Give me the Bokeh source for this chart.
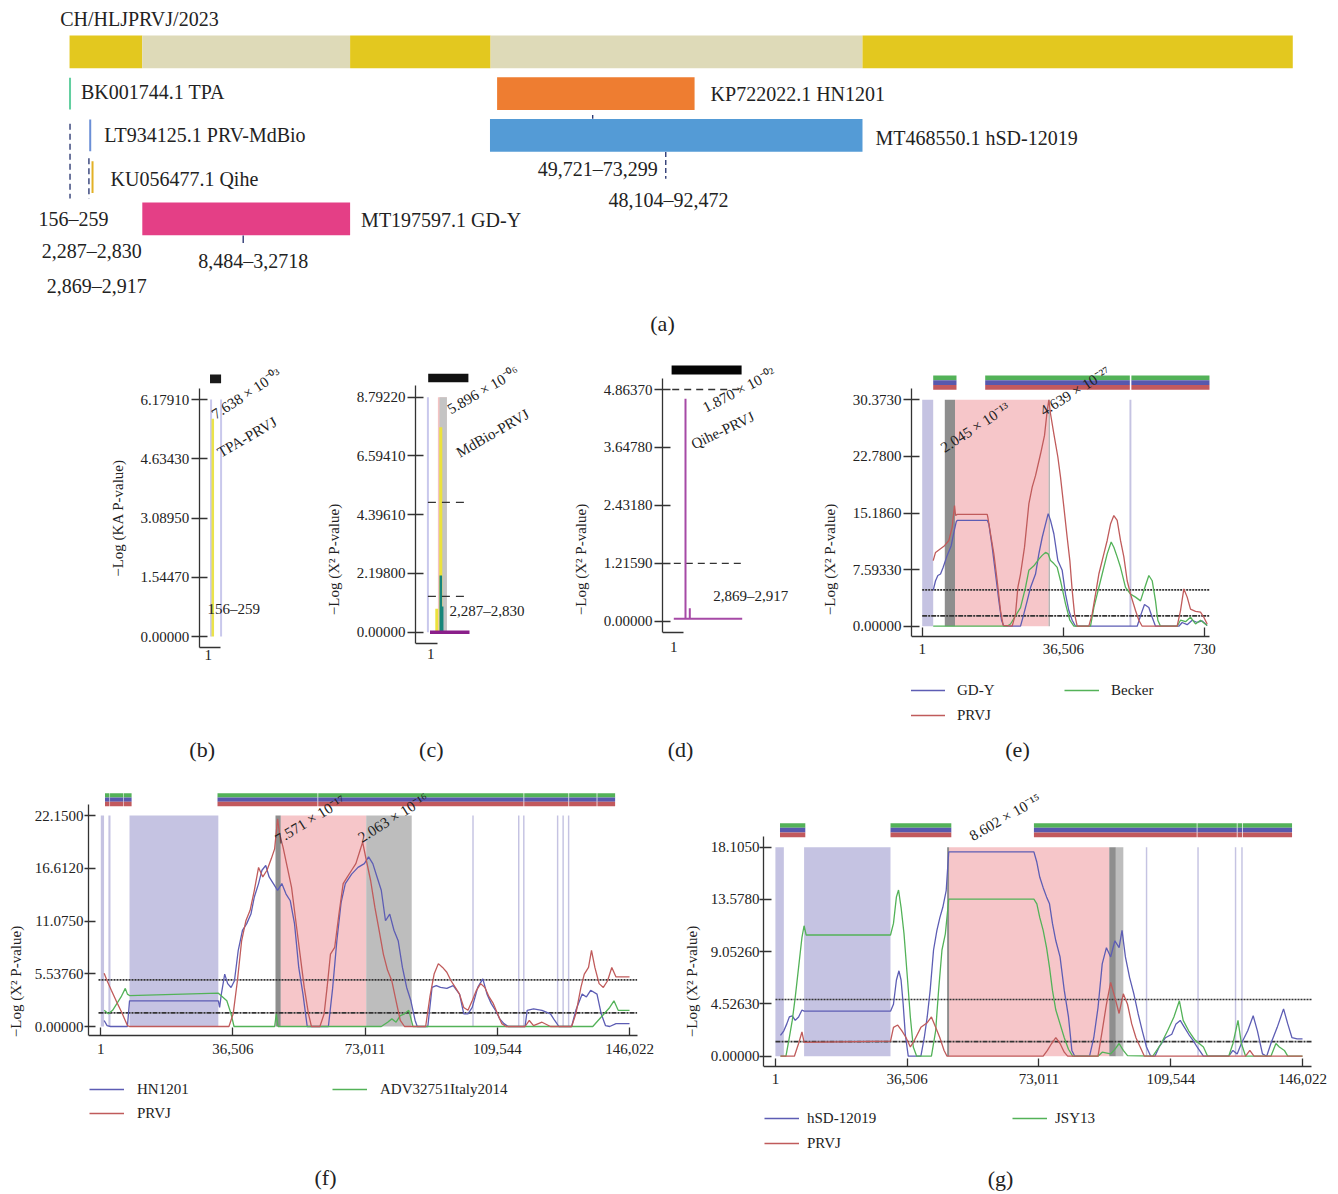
import math
from bokeh.plotting import figure
from bokeh.models import Range1d, LinearAxis, FixedTicker, Legend, LegendItem, Label
from bokeh.layouts import column, row
from bokeh.embed import file_html
from bokeh.resources import INLINE
from bokeh.core.properties import value

FONT = "Liberation Serif"
INK = "#222222"

# ======================= DATA =======================
# (a) genome schematic (bp)
genome_name = "CH/HLJPRVJ/2023"
genome_block_start = [1, 8484, 32718, 49100, 92472]
genome_block_end = [8484, 32718, 49100, 92472, 142650]

parent_bar_names = ["KP722022.1 HN1201", "MT468550.1 hSD-12019", "MT197597.1 GD-Y"]
parent_bar_start = [49860, 49030, 8484]
parent_bar_end = [72890, 92472, 32718]
parent_bar_row = [1, 2, 4]

parent_line_names = ["BK001744.1 TPA", "LT934125.1 PRV-MdBio", "KU056477.1 Qihe"]
parent_line_pos = [55, 2410, 2680]
parent_line_row = [1, 2, 3]

range_labels = ["156–259", "2,287–2,830", "2,869–2,917", "8,484–3,2718", "49,721–73,299", "48,104–92,472"]
dashed_mark_pos = [55, 2260]
solid_mark_pos = [61010, 20250]
hsd_mark_pos = [69530]

# (b) TPA-PRVJ
b_ticks = [0, 1.544775, 3.08955, 4.634325, 6.1791]
b_tick_labels = ["0.00000", "1.54470", "3.08950", "4.63430", "6.17910"]
b_bound_pos = [63, 278]
b_signal_pos = [100]
b_signal_val = [5.675]
b_box = [40, 278]
b_pvalue = "7.638 × 10⁻⁰³"
b_pair = "TPA-PRVJ"

# (c) MdBio-PRVJ
c_ticks = [0, 2.19805, 4.3961, 6.59415, 8.7922]
c_tick_labels = ["0.00000", "2.19800", "4.39610", "6.59410", "8.79220"]
c_bound_pos = [-167]
c_pink = [433, 973]
c_gray = [529, 973]
c_yellow_pos = [367, 607]
c_yellow_val = [0.875, 7.67]
c_teal_pos = [607, 691]
c_teal_val = [2.12, 0.96]
c_base = [-41, 2329]
c_thresholds = [4.86, 1.34]
c_thresh_span = [-167, 2047]
c_box = [-149, 2263]
c_pvalue = "5.896 × 10⁻⁰⁶"
c_pair = "MdBio-PRVJ"

# (d) Qihe-PRVJ
d_ticks = [0, 1.215925, 2.43185, 3.647775, 4.8637]
d_tick_labels = ["0.00000", "1.21590", "2.43180", "3.64780", "4.86370"]
d_signal_pos = [703, 961]
d_signal_val = [4.67, 0.27]
d_base = [1, 4105]
d_thresholds = [4.8637, 1.2159]
d_thresh_start = [-95, 1]
d_thresh_end = 4063
d_box = [-131, 4069]
d_pvalue = "1.870 × 10⁻⁰²"
d_pair = "Qihe-PRVJ"

# (e) GD-Y / PRVJ / Becker
e_ticks = [0, 7.59325, 15.1865, 22.77975, 30.373]
e_tick_labels = ["0.00000", "7.59330", "15.1860", "22.7800", "30.3730"]
e_xticks = [1, 36506, 73011]
e_xtick_labels = ["1", "36,506", "730"]
e_lavender = [(1, 2846), (53600, 54100)]
e_darkgray = [(5845, 8484)]
e_pink = [(8484, 32718)]
e_gray_line = [(32718, 32980)]
e_stripes = [(2846, 8871), (16293, 53700), (54100, 74300)]
e_thresholds = [4.88, 1.39]
e_gdy = [(2845, 4.8), (3449, 6.1), (4052, 6.8), (4742, 7.0), (5432, 7.9), (6466, 9.5), (7500, 10.8),
         (8190, 12.6), (8794, 14.0), (9052, 14.2), (16810, 14.2), (17241, 13.7), (18103, 10.6),
         (18965, 7.0), (19827, 3.4), (20517, 0.8), (21120, 0), (25430, 0), (26292, 1.65), (27154, 3.4),
         (28016, 5.2), (29309, 7.0), (30171, 9.7), (31033, 11.9), (31895, 13.7), (32585, 15.1),
         (33188, 14.2), (34050, 12.4), (35084, 8.8), (36205, 7.5), (37067, 4.3), (37929, 2.1),
         (38791, 0.8), (39653, 0), (55600, 0), (56634, 1.65), (57496, 2.9), (58617, 2.5), (59479, 1.2),
         (60341, 0), (66375, 0), (67237, 0.5), (68530, 0.2), (69823, 0.8), (71116, 0.5), (72409, 0.7),
         (73700, 0.1)]
e_prvj = [(2845, 8.8), (3449, 9.9), (4742, 10.4), (5776, 10.8), (6897, 11.5), (7759, 13.3), (8362, 16.2),
          (8621, 14.85), (9052, 15.0), (16810, 15.0), (16982, 14.6), (17672, 12.4), (18534, 9.7),
          (19396, 6.1), (20258, 2.1), (20948, 0.1), (23275, 0), (24137, 1.65), (24740, 5.2), (25430, 7.0),
          (26464, 10.6), (27585, 16.4), (28447, 18.65), (29309, 20.2), (30602, 23.1), (31636, 25.6),
          (32326, 28.9), (32757, 30.37), (33188, 28.5), (34050, 25.8), (35084, 22.7), (35773, 20.0),
          (36635, 16.0), (37497, 11.9), (38187, 8.8), (38791, 4.8), (39394, 1.65), (40084, 0),
          (43101, 0), (43963, 1.65), (44825, 4.3), (45687, 7.0), (46980, 9.7), (47842, 11.5),
          (48704, 13.7), (49566, 14.85), (50428, 14.2), (51290, 11.5), (52152, 9.3), (53014, 6.1),
          (53876, 4.3), (55169, 2.1), (56031, 0.8), (56893, 0), (65944, 0), (66806, 2.1), (67668, 5.0),
          (68530, 3.9), (69392, 2.3), (70685, 2.0), (71978, 1.9), (72840, 1.2), (73700, 0.3)]
e_becker = [(2845, 0), (21982, 0), (22844, 0.3), (24137, 1.4), (25430, 2.5), (26723, 5.2), (27585, 7.5),
            (28878, 8.1), (30171, 9.0), (31033, 9.5), (31895, 9.9), (32585, 9.7), (33188, 8.8),
            (34050, 8.4), (34912, 7.9), (35773, 6.1), (37067, 3.0), (38187, 0.8), (39222, 0),
            (43532, 0), (44394, 2.5), (45256, 4.3), (46549, 7.0), (47842, 9.7), (48876, 11.3),
            (49566, 10.6), (50428, 9.3), (51290, 7.9), (52583, 5.2), (53876, 4.3), (55169, 3.9),
            (56462, 3.4), (57324, 4.8), (58617, 6.8), (59479, 6.1), (60341, 3.4), (60944, 0.8),
            (61634, 0), (65944, 0), (66806, 0.8), (68099, 0.6), (69392, 1.2), (70685, 0.3),
            (71978, 0.8), (73700, 0.1)]
e_names = ["GD-Y", "PRVJ", "Becker"]
e_pvalues = ["2.045 × 10⁻¹³", "4.639 × 10⁻²⁷"]

# (f) HN1201 / PRVJ / ADV32751Italy2014
f_ticks = [0, 5.5375, 11.075, 16.6125, 22.15]
f_tick_labels = ["0.00000", "5.53760", "11.0750", "16.6120", "22.1500"]
gen_xticks = [1, 36506, 73011, 109544, 146022]
gen_xtick_labels = ["1", "36,506", "73,011", "109,544", "146,022"]
f_lavender = [(1, 900), (2100, 2680), (7930, 32460), (102600, 103000), (115230, 115630),
              (116630, 117030), (125970, 126370), (127490, 127890), (129010, 129410)]
f_darkgray = [(48250, 49721)]
f_pink = [(49721, 73299)]
f_gray = [(73299, 85870)]
f_stripes = [(1161, 2400), (2550, 6150), (6300, 8508), (32234, 59850), (60050, 116750),
             (116950, 129150), (129350, 136950), (137150, 142050)]
f_thresholds = [4.9, 1.44]
f_hn = [(924, 0.63), (1742, 0.1), (2677, 0), (7351, 0), (7935, 2.7), (32472, 2.7), (32823, 2.0),
        (33290, 3.4), (34225, 5.5), (35043, 4.5), (35978, 4.1), (36912, 4.8), (37964, 8.0),
        (39132, 10.1), (40301, 10.8), (41469, 11.8), (42404, 13.6), (43572, 15.0), (44507, 16.4),
        (45558, 16.9), (46493, 15.7), (47661, 15.0), (48830, 14.3), (49998, 15.0), (51167, 13.9),
        (52335, 13.2), (53503, 10.8), (54672, 6.2), (55840, 3.4), (57009, 0), (62859, 0),
        (64027, 4.0), (65196, 9.0), (66364, 13.0), (67533, 15.0), (69285, 16.0), (71038, 16.7),
        (72791, 17.1), (73959, 17.8), (75128, 17.1), (76296, 15.7), (77465, 14.3), (78633, 11.1),
        (79802, 11.8), (80970, 10.1), (82138, 9.0), (83307, 6.2), (84475, 4.1), (85644, 2.7),
        (86812, 0.63), (87396, 0), (90318, 0), (91486, 4.1), (92654, 4.3), (93823, 4.1),
        (95575, 4.0), (97328, 4.3), (99081, 3.4), (100249, 1.33), (101417, 1.33), (102586, 2.0),
        (104105, 4.1), (105507, 5.0), (106675, 3.4), (107844, 2.4), (109012, 1.7), (110180, 0.8),
        (111349, 0.3), (112517, 0), (117181, 0), (117765, 1.7), (119518, 1.85), (121855, 1.7),
        (124192, 1.33), (125360, 0.63), (126529, 0), (130034, 0), (131202, 1.7), (132955, 3.4),
        (134123, 3.1), (135292, 3.8), (137044, 3.4), (138213, 1.33), (139381, 0.1), (140550, 0),
        (142302, 0.3), (146022, 0.3)]
f_prvj = [(924, 5.6), (1742, 4.8), (2911, 3.8), (4430, 2.55), (5949, 1.33), (7351, 0.1), (7935, 0),
          (35393, 0), (36561, 1.33), (37730, 4.8), (38898, 9.0), (40066, 11.1), (41235, 12.2),
          (42403, 14.3), (43572, 16.7), (44740, 15.7), (45908, 16.4), (47077, 17.6), (48011, 18.65),
          (48829, 21.8), (49413, 20.2), (50348, 18.8), (51516, 16.7), (52685, 14.6), (53853, 11.1),
          (55022, 7.6), (56190, 4.1), (57359, 1.33), (58176, 0), (60513, 0), (61682, 1.33),
          (62500, 4.1), (63434, 7.6), (64603, 8.3), (65771, 11.8), (66940, 15.0), (68108, 15.7),
          (69276, 16.4), (70445, 17.1), (71613, 18.5), (72314, 19.35), (73366, 17.4), (74534, 15.3),
          (75703, 12.5), (76871, 10.1), (78040, 7.6), (79208, 5.9), (80376, 4.8), (81545, 2.7),
          (82713, 0.63), (83882, 0), (89724, 0), (90892, 3.1), (92060, 5.5), (93229, 6.6),
          (94397, 6.2), (95566, 5.7), (96734, 4.8), (97903, 4.1), (99071, 3.4), (100240, 2.0),
          (101408, 1.7), (102576, 2.7), (103745, 3.8), (104913, 4.5), (106082, 4.1), (107250, 3.1),
          (108418, 2.4), (109587, 1.33), (110755, 0.3), (111924, 0), (117181, 0), (118350, 0.63),
          (119518, 0.1), (121855, 0.45), (124192, 0), (130034, 0), (131202, 1.33), (132604, 4.1),
          (133539, 5.5), (134707, 6.2), (135525, 8.0), (136460, 6.2), (137628, 4.5), (138797, 4.1),
          (139965, 4.8), (141133, 6.2), (142302, 5.2), (146022, 5.2)]
f_adv = [(924, 1.7), (2093, 1.33), (3261, 1.7), (4430, 2.4), (5598, 3.1), (6767, 4.0), (7351, 3.4),
         (7935, 3.25), (32472, 3.5), (33641, 3.1), (34809, 2.7), (35978, 1.33), (36796, 0),
         (48011, 0), (48478, 1.33), (48946, 0), (77465, 0), (79218, 0.45), (80386, 0.8),
         (81555, 0.45), (82723, 1.15), (83892, 1.33), (85060, 1.7), (86229, 0), (135884, 0),
         (138220, 1.0), (140557, 2.0), (141726, 2.7), (142894, 1.7), (146022, 1.7)]
f_names = ["HN1201", "PRVJ", "ADV32751Italy2014"]
f_pvalues = ["7.571 × 10⁻¹⁷", "2.063 × 10⁻¹⁶"]

# (g) hSD-12019 / PRVJ / JSY13
g_ticks = [0, 4.52625, 9.0525, 13.57875, 18.105]
g_tick_labels = ["0.00000", "4.52630", "9.05260", "13.5780", "18.1050"]
g_lavender = [(1, 2340), (7950, 31880), (102600, 103000), (116860, 117260), (127250, 127650),
              (129030, 129430)]
g_darkgray = [(47560, 48104), (92472, 94300)]
g_lightgray = [(94300, 96370)]
g_pink = [(48104, 92472)]
g_stripes = [(1275, 8283), (31883, 48725), (71606, 116700), (116900, 127800), (128000, 129300),
             (129500, 143100)]
g_thresholds = [4.91, 1.27]
g_hsd = [(1403, 1.8), (2337, 2.2), (3155, 2.8), (3855, 3.4), (4673, 3.5), (5491, 3.1), (6425, 3.4),
         (7359, 4.0), (7943, 3.9), (31887, 3.9), (32705, 4.5), (33522, 6.6), (34223, 7.4),
         (34807, 6.6), (35391, 4.5), (35975, 1.9), (36793, 0), (40297, 0), (41231, 1.6),
         (42049, 3.4), (42867, 5.7), (43801, 9.2), (44735, 10.9), (45553, 12.0), (46371, 12.9),
         (47305, 14.35), (48006, 17.7), (71599, 17.7), (72417, 16.8), (73234, 15.5), (74169, 14.6),
         (75103, 13.8), (75921, 13.2), (76739, 11.5), (77673, 10.0), (78841, 8.6), (80009, 5.7),
         (81177, 3.4), (82112, 0.5), (82929, 0), (87017, 0), (88185, 1.6), (89353, 4.2),
         (90521, 8.0), (91689, 9.4), (92857, 8.6), (94025, 10.0), (95193, 9.4), (96011, 10.9),
         (96945, 8.6), (98113, 6.8), (99281, 5.4), (100449, 3.7), (101617, 2.2), (102785, 0.8),
         (103953, 0), (105121, 0), (106289, 0.8), (108041, 1.6), (109793, 1.9), (110961, 2.8),
         (112129, 3.1), (113297, 2.5), (114465, 1.9), (115633, 1.4), (116801, 0.8), (118553, 0),
         (125561, 0), (126729, 0.5), (127897, 0.2), (129065, 1.1), (130817, 2.2), (132335, 3.5),
         (133503, 2.2), (134905, 0.2), (136073, 0), (137241, 1.1), (138993, 2.5), (140745, 4.1),
         (141913, 2.8), (143081, 1.6), (144483, 1.5), (146001, 1.5)]
g_prvj = [(1403, 0), (5257, 0), (6425, 1.1), (7359, 2.1), (7943, 1.2), (31887, 1.3), (32705, 2.5),
          (33873, 2.7), (35041, 2.2), (36209, 1.6), (37377, 0.8), (38545, 1.4), (40297, 2.5),
          (42049, 2.9), (43217, 3.4), (44385, 2.5), (45553, 1.6), (46721, 0.5), (47539, 0),
          (74169, 0), (75337, 0.5), (76505, 1.1), (77673, 1.6), (78841, 1.1), (80009, 0.35),
          (80943, 0), (89353, 0), (90521, 2.2), (91689, 4.5), (92857, 6.4), (94025, 5.1),
          (95193, 3.7), (96361, 5.4), (97529, 4.5), (98697, 2.8), (99865, 1.6), (101033, 0.8),
          (102201, 0), (130233, 0), (131401, 0.5), (132569, 0), (146001, 0)]
g_jsy = [(1403, 0), (2921, 0), (3855, 1.6), (4673, 3.1), (5491, 5.1), (6425, 7.7), (7359, 10.3),
         (7943, 11.3), (8527, 10.5), (31887, 10.5), (32705, 11.5), (33522, 13.8), (34107, 14.4),
         (34807, 12.9), (35625, 10.6), (36559, 6.8), (37377, 3.4), (38194, 0.8), (39129, 0),
         (43217, 0), (44385, 2.2), (45203, 5.7), (46137, 9.2), (47071, 10.6), (48006, 13.6),
         (71599, 13.6), (72417, 13.2), (73234, 12.0), (74169, 10.9), (75103, 9.4), (75921, 7.7),
         (76739, 5.7), (77673, 4.0), (78841, 2.8), (80009, 1.6), (81177, 0.6), (82345, 0),
         (89353, 0), (90521, 0.35), (92857, 0.2), (94025, 0.6), (95193, 1.1), (96361, 0.5),
         (97529, 0.05), (104537, 0), (106873, 1.1), (108625, 2.2), (110377, 3.4), (111895, 4.8),
         (112947, 3.1), (114465, 2.2), (116217, 1.4), (118553, 0.8), (119721, 0), (125561, 0),
         (126729, 1.1), (128131, 3.1), (129065, 1.1), (130233, 0), (137241, 0), (138643, 1.1),
         (139577, 0.8), (140979, 0.5), (141913, 0), (146001, 0)]
g_names = ["hSD-12019", "PRVJ", "JSY13"]
g_pvalues = ["8.602 × 10⁻¹⁵"]

# ======================= STYLE =======================
YEL, BEIGE = "#e3c81f", "#dedab8"
BAR_COLORS = ["#ee7d31", "#549bd6", "#e43f86"]
LINE_COLORS = ["#62cfa0", "#6b8fd6", "#e2b126"]
NAVY = "#1f2d6b"
BLUE, RED, GREEN = "#5d5db4", "#c05b5b", "#53b258"
LAV, PINK, GRAY_D, GRAY_L = "#c5c3e2", "#f6c6c9", "#8e8e8e", "#bdbdbd"
STRIPE_COLORS = [GREEN, "#5858ad", "#c2595d"]


def lmap(p0, v0, p1, v1):
    k = (v1 - v0) / (p1 - p0)
    return lambda p: v0 + (p - p0) * k


def make_fig(L, T, W, H, border, xf, yf):
    p = figure(width=int(W + border), height=int(H),
               x_range=Range1d(xf(L), xf(L + W)), y_range=Range1d(yf(T + H), yf(T)),
               output_backend="svg", toolbar_location=None,
               x_axis_location=None, y_axis_location=None,
               min_border_left=border, min_border_right=0, min_border_top=0, min_border_bottom=0)
    p.outline_line_color = None
    p.background_fill_color = "white"
    p.border_fill_color = "white"
    p.grid.visible = False
    return p


def style_axis(ax, tin, tout, standoff):
    ax.axis_line_color = "#333333"
    ax.axis_line_width = 1.3
    ax.major_tick_line_color = "#333333"
    ax.major_tick_line_width = 1.3
    ax.major_tick_in = tin
    ax.major_tick_out = tout
    ax.minor_tick_line_color = None
    ax.major_label_standoff = standoff
    ax.major_label_text_font = FONT
    ax.major_label_text_font_size = "15px"
    ax.major_label_text_color = INK
    ax.axis_label_text_font = FONT
    ax.axis_label_text_font_size = "15px"
    ax.axis_label_text_font_style = "normal"
    ax.axis_label_text_color = INK


def add_y(p, ticks, labels, bounds, label, tin, tout, standoff, lstand, fixed=None):
    ax = LinearAxis(ticker=FixedTicker(ticks=ticks),
                    major_label_overrides={t: s for t, s in zip(ticks, labels)},
                    bounds=bounds, axis_label=label)
    if fixed is not None:
        ax.fixed_location = fixed
    style_axis(ax, tin, tout, standoff)
    ax.axis_label_standoff = lstand
    p.add_layout(ax, "left")


def add_x(p, ticks, labels, bounds, loc, tin, standoff):
    ax = LinearAxis(ticker=FixedTicker(ticks=ticks),
                    major_label_overrides={t: s for t, s in zip(ticks, labels)},
                    bounds=bounds, fixed_location=loc)
    style_axis(ax, tin, 0, standoff)
    p.add_layout(ax, "below")


def txt(p, x, y, s, size="15px", align="left", base="middle", angle=0.0):
    p.text(x=[x], y=[y], text=[s], angle=angle, text_font=value(FONT), text_font_size=size,
           text_color=INK, text_align=align, text_baseline=base)


def panel_label(p, x, y, s):
    p.add_layout(Label(x=x, y=y, text=s, text_font=FONT, text_font_size="22px", text_color=INK,
                       text_align="center", text_baseline="middle"))


def shade(p, spans, color, top, alpha=1.0):
    p.quad(left=[a for a, b in spans], right=[b for a, b in spans], bottom=0, top=top,
           fill_color=color, fill_alpha=alpha, line_color=None)


def stripes(p, spans, y_lo, y_hi):
    h = (y_hi - y_lo) / 3.0
    for i, c in enumerate(STRIPE_COLORS):
        p.quad(left=[a for a, b in spans], right=[b for a, b in spans],
               bottom=y_hi - (i + 1) * h, top=y_hi - i * h, fill_color=c, line_color=None)


def thresholds(p, vals, x0, x1):
    dashes = ["2 1", "5 1 2 1"]
    for v, d in zip(vals, dashes):
        p.segment(x0=[x0], y0=[v], x1=[x1], y1=[v], line_color="#333333", line_width=1.7, line_dash=d)


def curve(p, pts, color):
    return p.line(x=[a for a, b in pts], y=[b for a, b in pts], line_color=color, line_width=1.3)


def legend(p, rends, names, vx, vy, spacing, standoff, lw):
    leg = Legend(items=[LegendItem(label=n, renderers=[r]) for n, r in zip(names, rends)],
                 location=(vx, vy), orientation="vertical", nrows=2,
                 padding=0, margin=0, spacing=spacing, label_standoff=standoff,
                 glyph_width=35, glyph_height=20, label_height=20, label_width=lw,
                 border_line_color=None, background_fill_alpha=0,
                 label_text_font=FONT, label_text_font_size="15px", label_text_color=INK)
    p.add_layout(leg)


YLAB = "−Log (X² P-value)"
ROW2_T, ROW2_H = 348, 422
ROW3_T, ROW3_H = 770, 422

# ======================= (a) =======================
ax_f = lmap(69.05, 0, 69.05 + 0.008575 * 100000, 100000)
ay_f = lmap(51.35, 0, 93.1, 1)
BPX = 1 / 0.008575
pa = make_fig(0, 0, 1338, 348, 0, ax_f, ay_f)
pa.hbar(y=[0] * len(genome_block_start), left=genome_block_start, right=genome_block_end, height=0.78,
        fill_color=[YEL, BEIGE, YEL, BEIGE, YEL], line_color=None)
pa.hbar(y=parent_bar_row, left=parent_bar_start, right=parent_bar_end, height=0.78,
        fill_color=BAR_COLORS, line_color=None)
pa.segment(x0=parent_line_pos, y0=[r - 0.38 for r in parent_line_row], x1=parent_line_pos,
           y1=[r + 0.38 for r in parent_line_row], line_color=LINE_COLORS, line_width=2)
pa.segment(x0=dashed_mark_pos, y0=[1.72, 2.55], x1=dashed_mark_pos, y1=[3.51, 3.51],
           line_color=NAVY, line_width=1.3, line_dash="6 4")
pa.segment(x0=solid_mark_pos, y0=[1.51, 4.40], x1=solid_mark_pos, y1=[1.60, 4.58],
           line_color=NAVY, line_width=1.3)
pa.segment(x0=hsd_mark_pos, y0=[2.40], x1=hsd_mark_pos, y1=[3.04], line_color=NAVY, line_width=1.3,
           line_dash="5 3")
txt(pa, ax_f(59.7), ay_f(18.3), genome_name, "20px")
for name, end, r, off, dy in zip(parent_bar_names, parent_bar_end, parent_bar_row, [16, 13, 11], [0, 2.4, 1.6]):
    txt(pa, end + off * BPX, r + dy / 41.75, name, "20px")
for name, pos, r, off, dy in zip(parent_line_names, parent_line_pos, parent_line_row, [11, 14, 18], [-1.4, 0, 1.7]):
    txt(pa, pos + off * BPX, r + dy / 41.75, name, "20px")
txt(pa, ax_f(38), ay_f(218.3), range_labels[0], "20px")
txt(pa, ax_f(41.3), ay_f(250.7), range_labels[1], "20px")
txt(pa, ax_f(46.2), ay_f(285), range_labels[2], "20px")
txt(pa, ax_f(252.8), ay_f(260.7), range_labels[3], "20px", "center")
txt(pa, ax_f(597.3), ay_f(168.3), range_labels[4], "20px", "center")
txt(pa, ax_f(668), ay_f(199), range_labels[5], "20px", "center")
panel_label(pa, ax_f(662), ay_f(323), "(a)")

# ======================= (b) =======================
bx = lmap(207.7, 1, 208.7, 22.5)
by = lmap(636, 0, 399, 6.1791)
pb = make_fig(0, ROW2_T, 320, ROW2_H, 0, bx, by)
pb.quad(left=[b_box[0]], right=[b_box[1]], bottom=by(382.7), top=by(374), fill_color="#1a1a1a", line_color=None)
pb.segment(x0=b_bound_pos, y0=0, x1=b_bound_pos, y1=b_ticks[-1], line_color="#c9c8ec", line_width=2)
pb.segment(x0=b_signal_pos, y0=0, x1=b_signal_pos, y1=b_signal_val, line_color="#ebe34a", line_width=2.5)
txt(pb, bx(217), by(421.7), b_pvalue, angle=math.radians(33), base="bottom")
txt(pb, bx(222), by(460), b_pair, angle=math.radians(30), base="bottom")
txt(pb, bx(207), by(608.3), range_labels[0])
panel_label(pb, bx(201.7), by(749), "(b)")
add_y(pb, b_ticks, b_tick_labels, (by(647.3), by(388.3)), "−Log (KA P-value)", 8, 8, 2, 12,
      fixed=bx(198.7))
add_x(pb, [1], ["1"], (bx(198.7), bx(219.5)), by(647.3), 0, 2)

# ======================= (c) =======================
cx = lmap(430.2, 1, 431.2, 61)
cy = lmap(631.7, 0, 396.7, 8.7922)
pc = make_fig(415, ROW2_T, 140, ROW2_H, 95, cx, cy)
pc.quad(left=[c_box[0]], right=[c_box[1]], bottom=cy(381.7), top=cy(373.3), fill_color="#111111", line_color=None)
pc.segment(x0=c_bound_pos, y0=0, x1=c_bound_pos, y1=c_ticks[-1], line_color="#c9c8ec", line_width=2)
pc.quad(left=[c_pink[0]], right=[c_pink[1]], bottom=0, top=c_ticks[-1], fill_color="#f4c4c4", line_color=None)
pc.quad(left=[c_gray[0]], right=[c_gray[1]], bottom=0, top=c_ticks[-1], fill_color="#c4c4c4", line_color=None)
pc.segment(x0=c_yellow_pos, y0=0, x1=c_yellow_pos, y1=c_yellow_val, line_color="#ece23c", line_width=3)
pc.segment(x0=c_teal_pos, y0=0, x1=c_teal_pos, y1=c_teal_val, line_color="#17857a", line_width=2.5)
pc.segment(x0=[c_base[0]], y0=[0], x1=[c_base[1]], y1=[0], line_color="#8a1f8a", line_width=3.5)
pc.segment(x0=c_thresh_span[0], y0=c_thresholds, x1=c_thresh_span[1], y1=c_thresholds,
           line_color="#333333", line_width=1.3, line_dash="8 6")
txt(pc, cx(452), cy(416.7), c_pvalue, angle=math.radians(30), base="bottom")
txt(pc, cx(461), cy(460), c_pair, angle=math.radians(30), base="bottom")
txt(pc, cx(449), cy(610.7), range_labels[1])
panel_label(pc, cx(430.8), cy(749), "(c)")
add_y(pc, c_ticks, c_tick_labels, (cy(642.7), cy(385)), YLAB, 8, 8, 2, 12)
add_x(pc, [1], ["1"], (cx(415.2), cx(436.7)), cy(642.7), 0, 6)

# ======================= (d) =======================
dx = lmap(673.3, 1, 674.3, 61)
dy = lmap(620.7, 0, 389, 4.8637)
pd_ = make_fig(662, ROW2_T, 143, ROW2_H, 107, dx, dy)
pd_.quad(left=[d_box[0]], right=[d_box[1]], bottom=dy(374), top=dy(365), fill_color="#050505", line_color=None)
pd_.segment(x0=d_thresh_start, y0=d_thresholds, x1=d_thresh_end, y1=d_thresholds,
            line_color="#333333", line_width=1.3, line_dash="7 5")
pd_.segment(x0=d_signal_pos, y0=0.05, x1=d_signal_pos, y1=d_signal_val, line_color="#a64aa6", line_width=2)
pd_.segment(x0=[d_base[0]], y0=[0.05], x1=[d_base[1]], y1=[0.05], line_color="#a64aa6", line_width=2)
txt(pd_, dx(707), dy(415), d_pvalue, angle=math.radians(27.5), base="bottom")
txt(pd_, dx(695), dy(451.7), d_pair, angle=math.radians(25.5), base="bottom")
txt(pd_, dx(712.7), dy(595.7), range_labels[2])
panel_label(pd_, dx(680), dy(749), "(d)")
add_y(pd_, d_ticks, d_tick_labels, (dy(631.7), dy(377.7)), YLAB, 8, 8, 2, 12)
add_x(pd_, [1], ["1"], (dx(661.7), dx(682.7)), dy(631.7), 0, 10)

# ======================= (e) =======================
ex = lmap(921.7, 1, 1204, 73011)
ey = lmap(625.7, 0, 399.3, 30.373)
pe = make_fig(911, ROW2_T, 427, ROW2_H, 106, ex, ey)
top_e = e_ticks[-1]
shade(pe, e_lavender, LAV, top_e)
shade(pe, e_darkgray, GRAY_D, top_e)
shade(pe, e_pink, PINK, top_e)
shade(pe, e_gray_line, "#9a9a9a", top_e)
stripes(pe, e_stripes, ey(389.3), ey(375))
thresholds(pe, e_thresholds, 1, ex(1209))
rb = curve(pe, e_gdy, BLUE)
rg = curve(pe, e_becker, GREEN)
rr = curve(pe, e_prvj, RED)
txt(pe, ex(946), ey(455), e_pvalues[0], angle=math.radians(33), base="bottom")
txt(pe, ex(1045), ey(418.3), e_pvalues[1], angle=math.radians(31.7), base="bottom")
panel_label(pe, ex(1017), ey(749), "(e)")
legend(pe, [rb, rr, rg], e_names, -1, ROW2_T + ROW2_H - 725, 5, 12, 102)
add_y(pe, e_ticks, e_tick_labels, (ey(636), ey(388.3)), YLAB, 8, 8, 2, 12)
add_x(pe, e_xticks, e_xtick_labels, (ex(910.7), ex(1209)), ey(636), 9, 7)

# ======================= (f) =======================
fx = lmap(100.3, 1, 629, 146022)
fy = lmap(1026, 0, 815, 22.15)
pf = make_fig(88, ROW3_T, 592, ROW3_H, 88, fx, fy)
top_f = f_ticks[-1]
shade(pf, f_lavender, LAV, top_f)
shade(pf, f_darkgray, GRAY_D, top_f)
shade(pf, f_pink, PINK, top_f)
shade(pf, f_gray, GRAY_L, top_f)
stripes(pf, f_stripes, fy(805.7), fy(792.7))
thresholds(pf, f_thresholds, fx(98), fx(636.6))
rb = curve(pf, f_hn, BLUE)
rg = curve(pf, f_adv, GREEN)
rr = curve(pf, f_prvj, RED)
txt(pf, fx(280), fy(846.7), f_pvalues[0], angle=math.radians(31.5), base="bottom")
txt(pf, fx(363), fy(845), f_pvalues[1], angle=math.radians(31.8), base="bottom")
panel_label(pf, fx(325), fy(1177), "(f)")
legend(pf, [rb, rr, rg], f_names, 1, ROW3_T + ROW3_H - 1123, 4, 13, 191)
add_y(pf, f_ticks, f_tick_labels, (fy(1035), fy(804)), YLAB, 7, 4, 1, 8)
add_x(pf, gen_xticks, gen_xtick_labels, (fx(88), fx(636.6)), fy(1035), 8, 8)

# ======================= (g) =======================
gx = lmap(774.9, 1, 1302.1, 146022)
gy = lmap(1055.7, 0, 846.7, 18.105)
pg = make_fig(763, ROW3_T, 575, ROW3_H, 83, gx, gy)
top_g = g_ticks[-1]
shade(pg, g_lavender, LAV, top_g)
shade(pg, g_pink, PINK, top_g)
shade(pg, g_darkgray, GRAY_D, top_g)
shade(pg, g_lightgray, GRAY_L, top_g)
stripes(pg, g_stripes, gy(836.7), gy(822.7))
thresholds(pg, g_thresholds, gx(775), gx(1311.4))
rb = curve(pg, g_hsd, BLUE)
rg = curve(pg, g_jsy, GREEN)
rr = curve(pg, g_prvj, RED)
txt(pg, gx(974), gy(843.3), g_pvalues[0], angle=math.radians(29.7), base="bottom")
panel_label(pg, gx(1000), gy(1178), "(g)")
legend(pg, [rb, rr, rg], g_names, 1, ROW3_T + ROW3_H - 1153, 5, 8, 200)
add_y(pg, g_ticks, g_tick_labels, (gy(1066), gy(835.7)), YLAB, 8, 4, 0, 8)
add_x(pg, gen_xticks, gen_xtick_labels, (gx(762.7), gx(1311.4)), gy(1066), 8, 7)

layout = column(pa, row(pb, pc, pd_, pe), row(pf, pg))
open("out.html", "w").write(file_html(layout, INLINE))
